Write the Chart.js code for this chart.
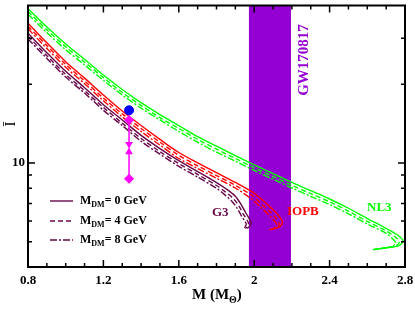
<!DOCTYPE html>
<html>
<head>
<meta charset="utf-8">
<script src="https://cdn.jsdelivr.net/npm/chart.js@4.4.0/dist/chart.umd.min.js"></script>
<style>
html, body { margin: 0; padding: 0; background: #fff; }
#wrap { width: 415px; height: 310px; }
</style>
</head>
<body>
<div id="wrap"><canvas id="chart" width="415" height="310"></canvas></div>
<script>
// axis ticks
const xMajor = [0.8, 1.2, 1.6, 2.0, 2.4, 2.8];
const xMinor = [0.9, 1.0, 1.1, 1.3, 1.4, 1.5, 1.7, 1.8, 1.9, 2.1, 2.2, 2.3, 2.5, 2.6, 2.7];
const yMajor = [10];
const yMinor = [5, 6, 7, 8, 9, 20, 30];

// GW170817 mass band
const gwBand = [1.972, 2.195];

// NL3 (M_DM = 0, 4, 8 GeV)
const nl3M0 = [0.8, 0.9, 1.0, 1.1, 1.2, 1.3, 1.4, 1.5, 1.6, 1.7, 1.8, 1.9, 2.0, 2.1, 2.2, 2.3, 2.4, 2.5, 2.6, 2.7, 2.76, 2.79, 2.765, 2.7, 2.63];
const nl3I0 = [38.9, 33.1, 28.5, 24.9, 21.7, 19.1, 17.0, 15.3, 13.9, 12.6, 11.6, 10.66, 9.83, 9.10, 8.42, 7.83, 7.28, 6.71, 6.13, 5.62, 5.30, 5.03, 4.82, 4.74, 4.66];
const nl3M4 = [0.8, 0.9, 1.0, 1.1, 1.2, 1.3, 1.4, 1.5, 1.6, 1.7, 1.8, 1.9, 2.0, 2.1, 2.2, 2.3, 2.4, 2.5, 2.6, 2.7, 2.75, 2.77, 2.75, 2.69, 2.63];
const nl3I4 = [37.9, 32.3, 27.8, 24.3, 21.2, 18.6, 16.6, 14.9, 13.55, 12.3, 11.3, 10.4, 9.58, 8.87, 8.21, 7.63, 7.10, 6.54, 5.98, 5.49, 5.20, 4.99, 4.81, 4.73, 4.66];
const nl3M8 = [0.8, 0.9, 1.0, 1.1, 1.2, 1.3, 1.4, 1.5, 1.6, 1.7, 1.8, 1.9, 2.0, 2.1, 2.2, 2.3, 2.4, 2.5, 2.6, 2.7, 2.735, 2.75, 2.73, 2.68, 2.63];
const nl3I8 = [37.0, 31.5, 27.1, 23.7, 20.7, 18.2, 16.2, 14.6, 13.2, 12.0, 11.0, 10.15, 9.36, 8.66, 8.02, 7.45, 6.93, 6.39, 5.84, 5.38, 5.12, 4.95, 4.79, 4.71, 4.66];

// IOPB
const iopbM0 = [0.8, 0.9, 1.0, 1.1, 1.2, 1.3, 1.4, 1.5, 1.6, 1.7, 1.8, 1.9, 2.0, 2.05, 2.1, 2.13, 2.149, 2.138, 2.096];
const iopbI0 = [34.2, 28.8, 24.4, 21.1, 18.2, 15.8, 13.9, 12.3, 10.96, 10.0, 9.18, 8.42, 7.66, 7.15, 6.62, 6.29, 5.97, 5.72, 5.57];
const iopbM4 = [0.8, 0.9, 1.0, 1.1, 1.2, 1.3, 1.4, 1.5, 1.6, 1.7, 1.8, 1.9, 1.99, 2.04, 2.09, 2.115, 2.132, 2.125, 2.09];
const iopbI4 = [33.3, 28.1, 23.8, 20.6, 17.7, 15.4, 13.55, 12.0, 10.7, 9.75, 8.95, 8.21, 7.50, 6.95, 6.45, 6.15, 5.90, 5.70, 5.56];
const iopbM8 = [0.8, 0.9, 1.0, 1.1, 1.2, 1.3, 1.4, 1.5, 1.6, 1.7, 1.8, 1.9, 1.98, 2.03, 2.075, 2.1, 2.118, 2.11, 2.08];
const iopbI8 = [32.6, 27.4, 23.2, 20.1, 17.3, 15.0, 13.2, 11.7, 10.4, 9.52, 8.74, 8.02, 7.33, 6.82, 6.35, 6.08, 5.86, 5.68, 5.55];

// G3
const g3M0 = [0.8, 0.9, 1.0, 1.1, 1.2, 1.3, 1.4, 1.5, 1.6, 1.7, 1.8, 1.85, 1.9, 1.93, 1.955, 1.975, 1.984, 1.975, 1.963];
const g3I0 = [31.3, 26.4, 22.4, 19.4, 16.7, 14.6, 12.75, 11.35, 10.2, 9.27, 8.41, 7.97, 7.46, 6.95, 6.45, 6.1, 5.9, 5.72, 5.62];
const g3M4 = [0.8, 0.9, 1.0, 1.1, 1.2, 1.3, 1.4, 1.5, 1.6, 1.7, 1.8, 1.845, 1.89, 1.92, 1.943, 1.962, 1.97, 1.963, 1.953];
const g3I4 = [30.5, 25.7, 21.8, 18.9, 16.3, 14.2, 12.4, 11.05, 9.95, 9.04, 8.2, 7.77, 7.3, 6.82, 6.36, 6.05, 5.87, 5.71, 5.61];
const g3M8 = [0.8, 0.9, 1.0, 1.1, 1.2, 1.3, 1.4, 1.5, 1.6, 1.7, 1.8, 1.84, 1.88, 1.91, 1.932, 1.95, 1.958, 1.952, 1.945];
const g3I8 = [29.8, 25.1, 21.3, 18.5, 15.9, 13.9, 12.1, 10.8, 9.71, 8.83, 8.0, 7.6, 7.15, 6.7, 6.28, 6.0, 5.84, 5.70, 5.60];

// observational points at M = 1.336
const obsM = 1.336;
const bluePoint = [15.9];
const magentaUpper = [14.6, 11.8];
const magentaLower = [11.0, 8.7];

const GREEN = '#00ff00';
const RED = '#ff0000';
const MAROON = '#670748';
const VIOLET = '#9400d3';
const SERIF = '"Liberation Serif", "Times New Roman", serif';

const pts = (m, v) => m.map((x, k) => ({ x: x, y: v[k] }));
const dashes = [[], [5, 3], [7, 2, 2, 2]];

function curve(m, v, color, dash) {
    return {
        data: pts(m, v),
        showLine: true,
        borderColor: color,
        borderWidth: 1.4,
        borderDash: dash,
        pointRadius: 0,
        tension: 0.3,
        fill: false
    };
}

const datasets = [
    {
        data: [{ x: obsM, y: bluePoint[0] }],
        backgroundColor: '#0000ff',
        borderColor: '#0000ff',
        pointRadius: 4.5
    },
    {
        data: magentaUpper.map(v => ({ x: obsM, y: v })),
        showLine: true,
        borderColor: '#ff00ff',
        backgroundColor: '#ff00ff',
        borderWidth: 1.5,
        pointStyle: ['rectRot', 'triangle'],
        pointRadius: [4, 3],
        rotation: [0, 180]
    },
    {
        data: magentaLower.map(v => ({ x: obsM, y: v })),
        showLine: true,
        borderColor: '#ff00ff',
        backgroundColor: '#ff00ff',
        borderWidth: 1.5,
        pointStyle: ['triangle', 'rectRot'],
        pointRadius: [3, 4],
        rotation: [0, 0]
    },
    curve(nl3M0, nl3I0, GREEN, dashes[0]),
    curve(nl3M4, nl3I4, GREEN, dashes[1]),
    curve(nl3M8, nl3I8, GREEN, dashes[2]),
    curve(iopbM0, iopbI0, RED, dashes[0]),
    curve(iopbM4, iopbI4, RED, dashes[1]),
    curve(iopbM8, iopbI8, RED, dashes[2]),
    curve(g3M0, g3I0, MAROON, dashes[0]),
    curve(g3M4, g3I4, MAROON, dashes[1]),
    curve(g3M8, g3I8, MAROON, dashes[2])
];

// draw text made of pieces (for subscripts)
function drawPieces(ctx, x, y, pieces) {
    pieces.forEach(p => {
        ctx.font = 'bold ' + p[1] + 'px ' + SERIF;
        ctx.fillText(p[0], x, y + (p[2] || 0));
        x += ctx.measureText(p[0]).width;
    });
}

const bandPlugin = {
    id: 'band',
    beforeDatasetsDraw(chart) {
        const { ctx, chartArea, scales } = chart;
        const x0 = scales.x.getPixelForValue(gwBand[0]);
        const x1 = scales.x.getPixelForValue(gwBand[1]);
        ctx.save();
        ctx.fillStyle = VIOLET;
        ctx.fillRect(x0, chartArea.top, x1 - x0, chartArea.bottom - chartArea.top);
        ctx.restore();
    }
};

const framePlugin = {
    id: 'frame',
    afterDraw(chart) {
        const { ctx, chartArea: a, scales } = chart;
        ctx.save();
        ctx.strokeStyle = '#000';
        ctx.lineWidth = 2;
        ctx.strokeRect(a.left, a.top, a.right - a.left, a.bottom - a.top);

        ctx.lineWidth = 1.5;
        ctx.beginPath();
        const xt = (vals, len) => vals.forEach(v => {
            const px = scales.x.getPixelForValue(v);
            ctx.moveTo(px, a.bottom); ctx.lineTo(px, a.bottom - len);
            ctx.moveTo(px, a.top); ctx.lineTo(px, a.top + len);
        });
        const yt = (vals, len) => vals.forEach(v => {
            const py = scales.y.getPixelForValue(v);
            ctx.moveTo(a.left, py); ctx.lineTo(a.left + len, py);
            ctx.moveTo(a.right, py); ctx.lineTo(a.right - len, py);
        });
        xt(xMajor, 7); xt(xMinor, 4);
        yt(yMajor, 7); yt(yMinor, 4);
        ctx.stroke();

        // legend
        const legY = [201, 221, 240];
        const legTxt = ['0', '4', '8'];
        ctx.strokeStyle = MAROON;
        ctx.lineWidth = 1.4;
        legY.forEach((ly, k) => {
            ctx.setLineDash(dashes[k]);
            ctx.beginPath();
            ctx.moveTo(50, ly); ctx.lineTo(73, ly);
            ctx.stroke();
        });
        ctx.setLineDash([]);
        ctx.fillStyle = '#000';
        ctx.textBaseline = 'middle';
        legY.forEach((ly, k) => {
            drawPieces(ctx, 80, ly, [['M', 12], ['DM', 8, 4], ['= ' + legTxt[k] + ' GeV', 12]]);
        });

        // curve labels
        ctx.font = 'bold 13px ' + SERIF;
        ctx.fillStyle = MAROON; ctx.fillText('G3', 212, 213);
        ctx.fillStyle = RED; ctx.fillText('IOPB', 287, 212);
        ctx.fillStyle = GREEN; ctx.fillText('NL3', 367, 208);

        // GW label
        ctx.save();
        ctx.translate(304, 60);
        ctx.rotate(-Math.PI / 2);
        ctx.textAlign = 'center';
        ctx.fillStyle = VIOLET;
        ctx.font = 'bold 15px ' + SERIF;
        ctx.fillText('GW170817', 0, 0);
        ctx.restore();

        // axis titles
        ctx.fillStyle = '#000';
        drawPieces(ctx, 192, 295, [['M (M', 15], ['\u0398', 10, 5], [')', 15]]);
        ctx.save();
        ctx.translate(11, 124);
        ctx.rotate(-Math.PI / 2);
        ctx.textAlign = 'center';
        ctx.font = '15px ' + SERIF;
        ctx.fillText('\u012A', 0, 0);
        ctx.restore();
        ctx.restore();
    }
};

new Chart(document.getElementById('chart'), {
    type: 'scatter',
    data: { datasets: datasets },
    options: {
        responsive: false,
        animation: false,
        events: [],
        layout: { padding: { top: 2, right: 10, left: 0, bottom: 0 } },
        plugins: { legend: { display: false }, tooltip: { enabled: false } },
        scales: {
            x: {
                type: 'linear',
                min: 0.8,
                max: 2.8,
                afterBuildTicks: s => { s.ticks = xMajor.map(v => ({ value: v })); },
                afterFit: s => { s.height = 43; s.paddingLeft = 0; s.paddingRight = 0; },
                grid: { display: false, drawTicks: false },
                border: { display: false },
                ticks: {
                    padding: 6,
                    color: '#000',
                    maxRotation: 0,
                    font: { family: SERIF, weight: 'bold', size: 13 },
                    callback: v => (v === 2 ? '2' : v.toFixed(1))
                }
            },
            y: {
                type: 'logarithmic',
                min: 4,
                max: 40,
                afterBuildTicks: s => { s.ticks = yMajor.map(v => ({ value: v })); },
                afterFit: s => { s.width = 28; s.paddingTop = 0; s.paddingBottom = 0; },
                grid: { display: false, drawTicks: false },
                border: { display: false },
                ticks: {
                    padding: 3,
                    color: '#000',
                    font: { family: SERIF, weight: 'bold', size: 13 },
                    callback: v => String(v)
                }
            }
        }
    },
    plugins: [bandPlugin, framePlugin]
});
</script>
</body>
</html>
